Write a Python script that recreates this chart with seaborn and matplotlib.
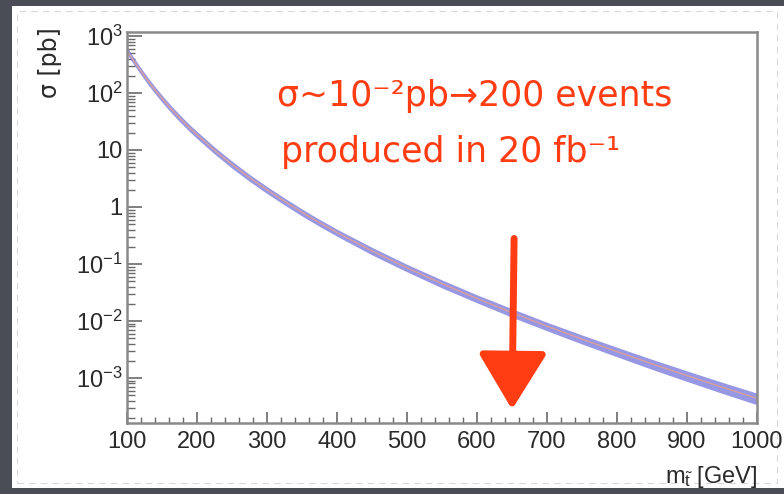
import matplotlib
matplotlib.use("Agg")
import matplotlib.pyplot as plt
import matplotlib.ticker as mticker
from matplotlib.patches import Rectangle
import numpy as np
import pandas as pd
import seaborn as sns

# stop pair cross section
stop_mass = [100, 110, 120, 130, 140, 150, 160, 170, 180, 190, 200,
             225, 250, 275, 300, 325, 350, 375, 400, 450, 500, 550,
             600, 650, 700, 750, 800, 850, 900, 950, 1000]
xsec_pb = [560.0, 362.0, 241.0, 163.0, 113.0, 80.3, 57.9, 42.6, 31.8, 24.0, 18.5,
           9.9, 5.58, 3.27, 2.00, 1.26, 0.807, 0.531, 0.357, 0.170, 0.0856, 0.0452,
           0.0248, 0.0140, 0.00811, 0.00481, 0.00290, 0.00177, 0.00110, 0.00069, 0.00044]
rel_unc = [0.14, 0.14, 0.14, 0.14, 0.14, 0.14, 0.14, 0.14, 0.14, 0.14, 0.14,
           0.14, 0.14, 0.14, 0.14, 0.14, 0.14, 0.14, 0.14, 0.15, 0.15, 0.16,
           0.16, 0.17, 0.17, 0.18, 0.19, 0.20, 0.21, 0.22, 0.23]

ytick_vals = [1e3, 1e2, 10, 1, 1e-1, 1e-2, 1e-3]
ytick_labels = [r"$\mathregular{10^{3}}$", r"$\mathregular{10^{2}}$", "10", "1",
                r"$\mathregular{10^{-1}}$", r"$\mathregular{10^{-2}}$", r"$\mathregular{10^{-3}}$"]
xtick_vals = [100, 200, 300, 400, 500, 600, 700, 800, 900, 1000]

note_line1 = "σ~10⁻²pb→200 events"
note_line2 = "produced in 20 fb⁻¹"
arrow_mass = 650

df = pd.DataFrame({"mass": stop_mass, "xsec": xsec_pb, "unc": rel_unc})
df["lo"] = df["xsec"] * (1 - df["unc"])
df["hi"] = df["xsec"] * (1 + df["unc"])

sns.set_style("white")
plt.rcParams["font.family"] = ["Liberation Sans", "DejaVu Sans"]
plt.rcParams["mathtext.fontset"] = "custom"
plt.rcParams["mathtext.rm"] = "Liberation Sans"
plt.rcParams["mathtext.it"] = "Liberation Sans:italic"

fig = plt.figure(figsize=(7.84, 4.94), dpi=100, facecolor="#4a4d56")
W, H = 784, 494
# white slide panel behind the axes
fig.patches.append(Rectangle((12 / W, 6 / H), 772 / W, 482 / H, transform=fig.transFigure,
                             facecolor="white", edgecolor="none", zorder=-2))
fig.patches.append(Rectangle((17 / W, 11 / H), 760 / W, 472 / H, transform=fig.transFigure,
                             facecolor="none", edgecolor="#d0d0d0", lw=0.6, ls=(0, (8, 6)), zorder=-1))

ax = fig.add_axes([127 / W, 1 - 423 / H, 630 / W, 391 / H])
ax.set_facecolor("white")

ax.fill_between(df["mass"], df["lo"], df["hi"], color="#7474dc", alpha=0.75, lw=0)
sns.lineplot(data=df, x="mass", y="xsec", ax=ax, color="#d8a09c", lw=1.0)

ax.set_yscale("log")
ax.set_xlim(100, 1000)
ax.set_ylim(10 ** -3.79, 10 ** 3.07)

ax.set_yticks(ytick_vals)
ax.set_yticklabels(ytick_labels)
ax.yaxis.set_minor_locator(mticker.LogLocator(base=10, subs=np.arange(2, 10), numticks=20))
ax.yaxis.set_minor_formatter(mticker.NullFormatter())
ax.set_xticks(xtick_vals)
ax.set_xticklabels([str(v) for v in xtick_vals])
ax.xaxis.set_minor_locator(mticker.MultipleLocator(20))

ax.tick_params(axis="both", which="both", direction="in", colors="#6a6a6a",
               labelcolor="#2a2a2a", labelsize=17, bottom=True, left=True,
               top=False, right=False)
ax.tick_params(axis="y", which="major", length=11, width=1.2, pad=3)
ax.tick_params(axis="y", which="minor", length=6, width=1.0)
ax.tick_params(axis="x", which="major", length=8, width=1.2, pad=6)
ax.tick_params(axis="x", which="minor", length=4, width=1.0)
for s in ax.spines.values():
    s.set_color("#8a8a8a")
    s.set_linewidth(1.8)

ax.set_xlabel("")
ax.set_ylabel("")
fig.text(757 / W, 1 - 477 / H, r"$\mathregular{m}_{\tilde{\mathregular{t}}}$ [GeV]",
         ha="right", va="center", fontsize=17, color="#2a2a2a")
fig.text(50 / W, 1 - 27 / H, "σ [pb]", rotation=90, ha="center", va="top",
         fontsize=17, color="#2a2a2a", family=["DejaVu Sans"])

red = "#ff3c12"
ax.text(0.238, 0.836, note_line1, transform=ax.transAxes, ha="left", va="center",
        fontsize=25, color=red, family=["DejaVu Sans"])
ax.text(0.244, 0.693, note_line2, transform=ax.transAxes, ha="left", va="center",
        fontsize=25, color=red, family=["DejaVu Sans"])
ax.annotate("", xy=(arrow_mass, 2.8e-4), xytext=(arrow_mass + 3, 0.28),
            arrowprops=dict(arrowstyle="-|>,head_length=1.4,head_width=0.85",
                            color=red, lw=5, mutation_scale=25, shrinkA=0, shrinkB=0))

fig.savefig("out.png", dpi=100, facecolor=fig.get_facecolor())
